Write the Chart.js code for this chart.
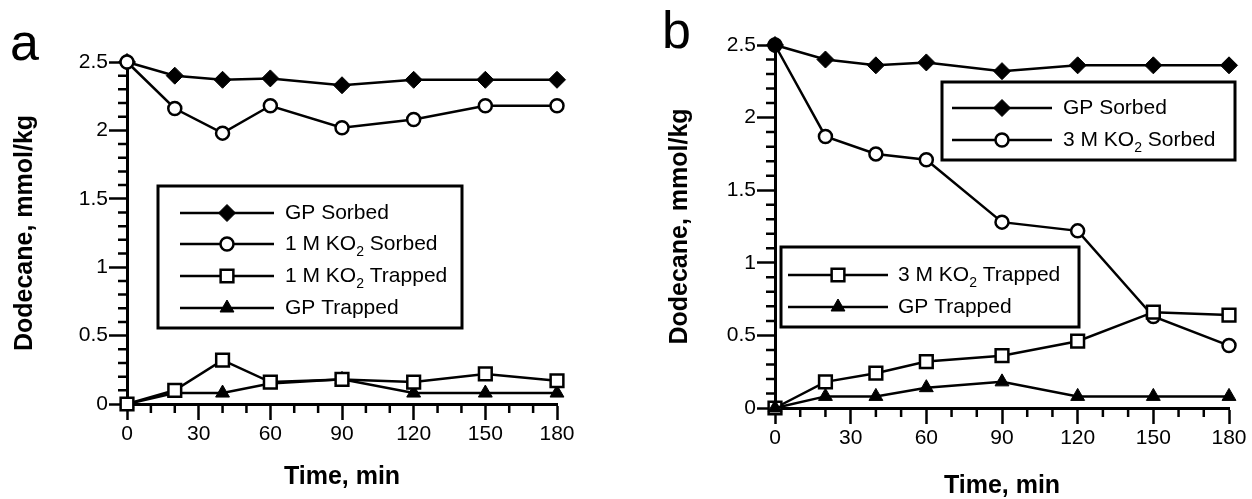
<!DOCTYPE html>
<html>
<head>
<meta charset="utf-8">
<script src="https://cdn.jsdelivr.net/npm/chart.js@4"></script>
<style>
  html, body { margin: 0; padding: 0; background: #fff; }
  #wrap { position: relative; width: 1252px; height: 499px; }
  canvas { position: absolute; top: 0; }
</style>
</head>
<body>
<div id="wrap">
  <canvas id="chartA" width="626" height="499" style="left:0"></canvas>
  <canvas id="chartB" width="626" height="499" style="left:626px"></canvas>
</div>
<script>
// =========================
// DATA
// =========================
const times = [0, 20, 40, 60, 90, 120, 150, 180];
const xTicks = [0, 30, 60, 90, 120, 150, 180];
const yTicks = [0, 0.5, 1, 1.5, 2, 2.5];

// panel a
const gpSorbedA   = [2.5, 2.4, 2.37, 2.38, 2.33, 2.37, 2.37, 2.37];
const ko2SorbedA  = [2.5, 2.16, 1.98, 2.18, 2.02, 2.08, 2.18, 2.18];
const ko2TrappedA = [0, 0.1, 0.32, 0.16, 0.18, 0.16, 0.22, 0.17];
const gpTrappedA  = [0, 0.08, 0.08, 0.15, 0.18, 0.08, 0.08, 0.08];

// panel b
const gpSorbedB   = [2.5, 2.4, 2.36, 2.38, 2.32, 2.36, 2.36, 2.36];
const ko2SorbedB  = [2.5, 1.87, 1.75, 1.71, 1.28, 1.22, 0.63, 0.43];
const ko2TrappedB = [0, 0.18, 0.24, 0.32, 0.36, 0.46, 0.66, 0.64];
const gpTrappedB  = [0, 0.08, 0.08, 0.14, 0.18, 0.08, 0.08, 0.08];

const FONT = '"Liberation Sans", Arial, Helvetica, sans-serif';

const marks = {
    diamond:  { pointStyle: "rectRot",  pointRadius: 8.5, pointBackgroundColor: "#000", pointBorderWidth: 1 },
    circle:   { pointStyle: "circle",   pointRadius: 6.5, pointBackgroundColor: "#fff", pointBorderWidth: 2.5 },
    square:   { pointStyle: "rect",     pointRadius: 9,   pointBackgroundColor: "#fff", pointBorderWidth: 2.5 },
    triangle: { pointStyle: "triangle", pointRadius: 8,   pointBackgroundColor: "#000", pointBorderWidth: 1 }
};

function series(label, values, mark) {
    return Object.assign({
        label: label,
        data: times.map((t, i) => ({ x: t, y: values[i] })),
        borderColor: "#000",
        borderWidth: 2.5,
        pointBorderColor: "#000",
        tension: 0,
        clip: false
    }, marks[mark]);
}

// text with "₂" drawn as a lowered small 2
function drawText(ctx, text, x, y, size) {
    const parts = text.split("₂");
    ctx.textBaseline = "middle";
    ctx.textAlign = "left";
    parts.forEach((p, i) => {
        ctx.font = size + "px " + FONT;
        ctx.fillText(p, x, y);
        x += ctx.measureText(p).width;
        if (i < parts.length - 1) {
            ctx.font = Math.round(size * 0.65) + "px " + FONT;
            ctx.fillText("2", x, y + size * 0.38);
            x += ctx.measureText("2").width;
        }
    });
}

function marker(ctx, ds, x, y) {
    ctx.fillStyle = ds.pointBackgroundColor;
    ctx.strokeStyle = "#000";
    ctx.lineWidth = ds.pointBorderWidth;
    Chart.helpers.drawPoint(ctx, { pointStyle: ds.pointStyle, radius: ds.pointRadius, rotation: 0, borderWidth: ds.pointBorderWidth }, x, y);
}

// minor ticks, legends, panel letter
const extras = {
    id: "extras",
    beforeDatasetsDraw(chart) {
        const { ctx, chartArea: a, scales: { x, y } } = chart;
        ctx.save();
        ctx.strokeStyle = "#000";
        ctx.lineWidth = 2.5;
        ctx.beginPath();
        for (let v = 1; v < 25; v++) {
            if (v % 5 === 0) continue;
            const py = y.getPixelForValue(v / 10);
            ctx.moveTo(a.left - 9, py);
            ctx.lineTo(a.left, py);
        }
        for (let t = 10; t < 180; t += 10) {
            if (t % 30 === 0) continue;
            const px = x.getPixelForValue(t);
            ctx.moveTo(px, a.bottom);
            ctx.lineTo(px, a.bottom + 9);
        }
        ctx.stroke();
        ctx.restore();
    },
    afterDraw(chart, args, opts) {
        const ctx = chart.ctx;
        const sets = chart.data.datasets;
        ctx.save();
        ctx.fillStyle = "#000";
        ctx.font = "52px " + FONT;
        ctx.textBaseline = "alphabetic";
        ctx.fillText(opts.letter, opts.letterX, opts.letterY);

        opts.legends.forEach(lg => {
            const [x0, y0, x1, y1] = lg.box;
            ctx.fillStyle = "#fff";
            ctx.fillRect(x0, y0, x1 - x0, y1 - y0);
            ctx.strokeStyle = "#000";
            ctx.lineWidth = 3;
            ctx.strokeRect(x0, y0, x1 - x0, y1 - y0);
            lg.items.forEach((idx, r) => {
                const ds = sets[idx];
                const ry = lg.rows[r];
                ctx.strokeStyle = "#000";
                ctx.lineWidth = 2.5;
                ctx.beginPath();
                ctx.moveTo(lg.line[0], ry);
                ctx.lineTo(lg.line[1], ry);
                ctx.stroke();
                marker(ctx, ds, (lg.line[0] + lg.line[1]) / 2, ry);
                ctx.fillStyle = "#000";
                drawText(ctx, ds.label, lg.textX, ry, 21);
            });
        });
        ctx.restore();
    }
};

function makeScales(yWidth, xHeight, yTitlePad, xTitlePad) {
    const tickFont = { family: FONT, size: 21 };
    const titleFont = { family: FONT, size: 25, weight: "bold", lineHeight: 1 };
    return {
        x: {
            type: "linear", min: 0, max: 180,
            afterBuildTicks: s => { s.ticks = xTicks.map(v => ({ value: v })); },
            ticks: { color: "#000", font: tickFont, padding: 2, maxRotation: 0, callback: v => String(v) },
            grid: { drawOnChartArea: false, tickLength: 16, tickWidth: 2.5, tickColor: "#000" },
            border: { display: true, color: "#000", width: 3 },
            title: { display: true, text: "Time, min", color: "#000", font: titleFont, padding: { top: 0, bottom: xTitlePad } },
            afterFit: s => { s.height = xHeight; }
        },
        y: {
            type: "linear", min: 0, max: 2.5,
            afterBuildTicks: s => { s.ticks = yTicks.map(v => ({ value: v })); },
            ticks: { color: "#000", font: tickFont, padding: 1, callback: v => String(v) },
            grid: { drawOnChartArea: false, tickLength: 18, tickWidth: 2.5, tickColor: "#000" },
            border: { display: true, color: "#000", width: 3 },
            title: { display: true, text: "Dodecane, mmol/kg", color: "#000", font: titleFont, padding: { top: yTitlePad, bottom: 0 } },
            afterFit: s => { s.width = yWidth; }
        }
    };
}

// =========================
// PANEL a
// =========================
new Chart(document.getElementById("chartA"), {
    type: "line",
    data: {
        datasets: [
            series("1 M KO₂ Trapped", ko2TrappedA, "square"),
            series("1 M KO₂ Sorbed", ko2SorbedA, "circle"),
            series("GP Sorbed", gpSorbedA, "diamond"),
            series("GP Trapped", gpTrappedA, "triangle")
        ]
    },
    options: {
        responsive: false,
        animation: false,
        events: [],
        layout: { padding: { top: 62, right: 69, bottom: 0, left: 0 } },
        scales: makeScales(127, 95, 12.5, 9.5),
        plugins: {
            legend: { display: false },
            tooltip: { enabled: false },
            extras: {
                letter: "a", letterX: 10, letterY: 60,
                legends: [
                    { box: [158, 186, 462, 328], line: [180, 274], textX: 285, rows: [213, 244, 276, 308], items: [2, 1, 0, 3] }
                ]
            }
        }
    },
    plugins: [extras]
});

// =========================
// PANEL b
// =========================
new Chart(document.getElementById("chartB"), {
    type: "line",
    data: {
        datasets: [
            series("GP Trapped", gpTrappedB, "triangle"),
            series("GP Sorbed", gpSorbedB, "diamond"),
            series("3 M KO₂ Trapped", ko2TrappedB, "square"),
            series("3 M KO₂ Sorbed", ko2SorbedB, "circle")
        ]
    },
    options: {
        responsive: false,
        animation: false,
        events: [],
        layout: { padding: { top: 45, right: 23, bottom: 0, left: 0 } },
        scales: makeScales(149, 91, 41.5, 0),
        plugins: {
            legend: { display: false },
            tooltip: { enabled: false },
            extras: {
                letter: "b", letterX: 36, letterY: 48,
                legends: [
                    { box: [316, 82, 609, 160], line: [326, 426], textX: 437, rows: [108, 140], items: [1, 3] },
                    { box: [155, 247, 453, 327], line: [162, 262], textX: 272, rows: [275, 307], items: [2, 0] }
                ]
            }
        }
    },
    plugins: [extras]
});
</script>
</body>
</html>
